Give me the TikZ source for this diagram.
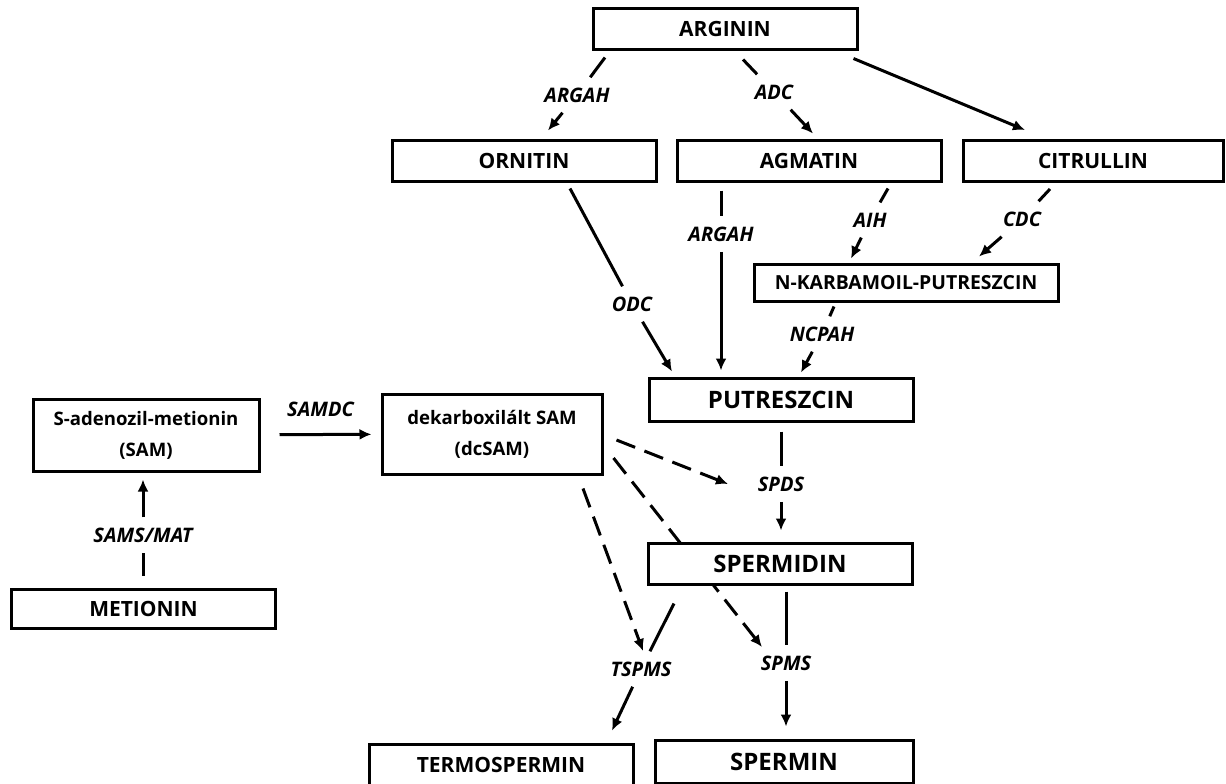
\documentclass[tikz,border=0pt]{standalone}
\usepackage{fontspec}
\setmainfont{Open Sans}
\usetikzlibrary{arrows.meta,positioning,calc,backgrounds}

\begin{document}
\begin{tikzpicture}[x=0.5pt,y=-0.5pt,>={Latex[length=6pt,width=5.5pt]},
  box/.style={draw,line width=1.5pt,fill=white,align=center,inner sep=0pt,minimum width=132pt,minimum height=20.5pt,font=\fontsize{10.5}{12}\selectfont\bfseries},
  bigbox/.style={box,font=\fontsize{12}{14}\selectfont\bfseries},
  sambox/.style={box,font=\fontsize{9.3}{15.5}\selectfont\bfseries},
  lab/.style={inner sep=5pt,font=\fontsize{10}{12}\selectfont\bfseries\itshape},
  conn/.style={line width=1.5pt},
  dconn/.style={conn,dash pattern=on 10pt off 5pt}]
\useasboundingbox (0,0) rectangle (1226,783);
% substances
\node[box] (arginin) at (725,28.5) {ARGININ};
\node[box] (ornitin) at (524,160.5) {ORNITIN};
\node[box] (agmatin) at (809,160.5) {AGMATIN};
\node[box,minimum width=130pt] (citrullin) at (1093,161) {CITRULLIN};
\node[box,minimum width=152pt,minimum height=18.5pt,font=\fontsize{9.7}{12}\selectfont\bfseries] (nkarb) at (906,282.5) {N-KARBAMOIL-PUTRESZCIN};
\node[bigbox,minimum height=21.5pt] (putreszcin) at (781,399.5) {PUTRESZCIN};
\node[sambox,minimum width=113pt,minimum height=36pt] (sam) at (146,435) {S-adenozil-metionin\\(SAM)};
\node[sambox,minimum width=110pt,minimum height=40pt] (dcsam) at (492,434) {dekarboxilált SAM\\(dcSAM)};
\node[bigbox] (spermidin) at (780,563.5) {SPERMIDIN};
\node[box,minimum height=19.5pt] (metionin) at (143.5,608.5) {METIONIN};
\node[box] (termospermin) at (501,764.5) {TERMOSPERMIN};
\node[bigbox,minimum width=129pt,minimum height=21.5pt] (spermin) at (784,761.5) {SPERMIN};
% enzymes
\node[lab] (argah1) at (577,95) {ARGAH};
\node[lab] (adc) at (774,92) {ADC};
\node[lab] (odc) at (632,304) {ODC};
\node[lab] (argah2) at (721,234) {ARGAH};
\node[lab] (aih) at (870,220) {AIH};
\node[lab] (cdc) at (1022,219) {CDC};
\node[lab] (ncpah) at (822,334) {NCPAH};
\node[lab] (samsmat) at (143,535) {SAMS/MAT};
\node[lab] (spds) at (781,484) {SPDS};
\node[lab] (spms) at (786,663) {SPMS};
\node[lab] (tspms) at (641,669) {TSPMS};
% reactions
\draw[conn,->] ($(arginin.south)+(-120,7)$) -- (argah1) -- ($(ornitin.north)+(24,-8)$);
\draw[conn,->] ($(arginin.south)+(18,9)$) -- (adc) -- ($(agmatin.north)+(4,-5)$);
\draw[conn,->] ($(arginin.south east)+(-5,8)$) -- ($(citrullin.north)+(-68,-9)$);
\draw[conn,->] ($(ornitin.south)+(46,6)$) -- (odc) -- ($(putreszcin.north)+(-109,-5)$);
\draw[conn,->] ($(agmatin.south)+(-88,8)$) -- (argah2) -- ($(putreszcin.north)+(-60,-6)$);
\draw[conn,->] ($(agmatin.south)+(79,6)$) -- (aih) -- ($(nkarb.north)+(-55,-4)$);
\draw[conn,->] ($(citrullin.south)+(-43,6)$) -- (cdc) -- ($(nkarb.north)+(73,-6)$);
\draw[conn,->] ($(nkarb.south)+(-72,4)$) -- (ncpah) -- ($(putreszcin.north)+(20,-4)$);
\draw[conn,->,shorten <=9.5pt,shorten >=4.5pt] (sam) -- node[lab,above=3pt] (samdc) {SAMDC} (dcsam);
\draw[conn,->] ($(metionin.north)+(-0.5,-12)$) -- (samsmat) -- ($(sam.south)+(-3,7)$);
\draw[conn,->] ($(putreszcin.south)+(0,9)$) -- (spds) -- ($(spermidin.north)+(1,-11)$);
\draw[conn,->] ($(spermidin.south)+(-106,18)$) -- (tspms) -- ($(termospermin.north)+(111,-12)$);
\draw[conn,->] ($(spermidin.south)+(6,6)$) -- (spms) -- ($(spermin.north)+(2,-12)$);
% dcSAM as donor
\draw[dconn,->] ($(dcsam.east)+(13,6)$) -- ($(spds.center)+(-53,0)$);
\draw[dconn,->] ($(dcsam.south)+(91,13)$) -- ($(tspms.center)+(2,-18)$);
\begin{scope}[on background layer]
\draw[dconn,->] ($(dcsam.east)+(10,24)$) -- ($(spms.center)+(-24,-16)$);
\end{scope}
\end{tikzpicture}
\end{document}
